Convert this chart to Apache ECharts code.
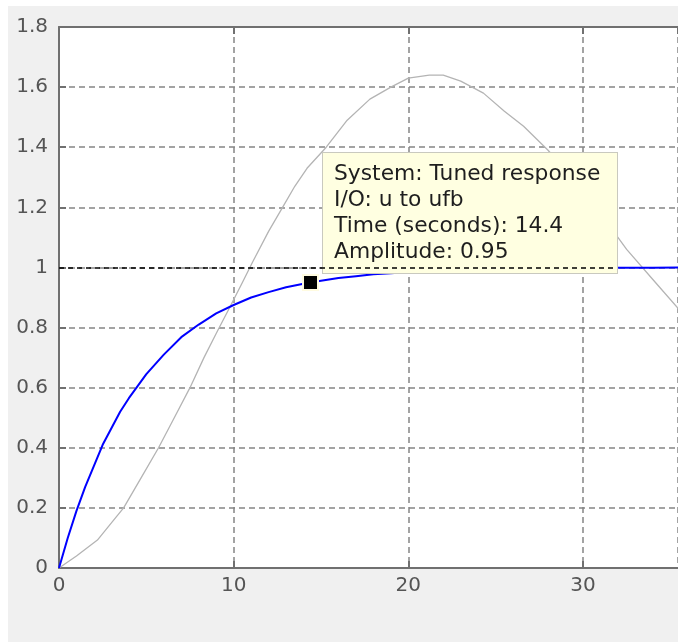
<!DOCTYPE html>
<html>
<head>
<meta charset="utf-8">
<script src="https://cdn.jsdelivr.net/npm/echarts@6/dist/echarts.min.js"></script>
<style>
  html, body { margin: 0; padding: 0; background: #ffffff; }
  #wrap { position: relative; width: 678px; height: 642px; background: #ffffff; overflow: hidden; }
  #bg { position: absolute; left: 8px; top: 6px; width: 670px; height: 636px; background: #f0f0f0; }
  #chart { position: absolute; left: 0; top: 0; width: 678px; height: 642px; }
</style>
</head>
<body>
<div id="wrap"><div id="bg"></div><div id="chart"></div></div>
<script>
// ---- data ----
const tunedTime = [0, 0.5, 1, 1.5, 2, 2.5, 3, 3.5, 4, 5, 6, 7, 8, 9, 10, 11, 12, 13, 14, 14.4, 15, 16, 17, 18, 19, 20, 22, 24, 26, 28, 30, 32, 34, 36];
const tunedAmp  = [0, 0.10, 0.19, 0.27, 0.34, 0.41, 0.465, 0.52, 0.565, 0.645, 0.71, 0.768, 0.81, 0.847, 0.875, 0.90, 0.918, 0.934, 0.946, 0.95, 0.956, 0.965, 0.971, 0.977, 0.981, 0.985, 0.99, 0.993, 0.996, 0.997, 0.998, 0.999, 0.999, 1.0];

const blockTime = [0, 1, 2.2, 3, 3.7, 4.7, 5.7, 6.6, 7.5, 8.3, 9, 9.8, 10.5, 11.1, 12, 12.8, 13.5, 14.2, 15.3, 16.5, 17.8, 19, 20, 21.2, 22, 23, 24.3, 25.5, 26.6, 28, 29.5, 31, 32.5, 34, 35.5];
const blockAmp  = [0, 0.04, 0.093, 0.15, 0.2, 0.3, 0.4, 0.5, 0.6, 0.7, 0.78, 0.87, 0.95, 1.02, 1.12, 1.2, 1.27, 1.33, 1.40, 1.49, 1.56, 1.60, 1.63, 1.64, 1.64, 1.62, 1.58, 1.52, 1.47, 1.39, 1.29, 1.18, 1.06, 0.96, 0.86];

const xTicks = [0, 10, 20, 30];
const yTicks = [0, 0.2, 0.4, 0.6, 0.8, 1, 1.2, 1.4, 1.6, 1.8];

const tipSystem = 'Tuned response';
const tipIO = 'u to ufb';
const tipTime = 14.4;
const tipAmp = 0.95;
const referenceLevel = 1;
const referenceEnd = 31.85;

const xMin = 0, xMax = 35.44;
const yMin = 0, yMax = 1.8;

// ---- chart ----
const chart = echarts.init(document.getElementById('chart'), null, { renderer: 'canvas' });
const FONT = 'DejaVu Sans';
const gridColor = '#858585';
const axisColor = '#707070';

function pairs(xs, ys) { return xs.map((x, i) => [x, ys[i]]); }

const option = {
  animation: false,
  backgroundColor: 'transparent',
  grid: { left: 59, top: 27, right: 0, bottom: 74, show: true, backgroundColor: '#ffffff', borderWidth: 0 },
  xAxis: [{
    type: 'value', min: xMin, max: xMax, interval: 10, position: 'bottom',
    axisLine: { show: true, lineStyle: { color: axisColor, width: 2 } },
    axisTick: { show: true, inside: true, length: 7, lineStyle: { color: axisColor, width: 2 } },
    axisLabel: {
      show: true, margin: 8, color: '#555555', fontFamily: FONT, fontSize: 20, showMaxLabel: false,
      formatter: v => (xTicks.indexOf(v) >= 0 ? String(v) : '')
    },
    splitLine: { show: true, lineStyle: { color: gridColor, width: 1.5, type: [6, 4] } }
  }, {
    type: 'value', min: xMin, max: xMax, interval: 10, position: 'top',
    axisLine: { show: true, onZero: false, lineStyle: { color: axisColor, width: 2 } },
    axisTick: { show: true, inside: true, length: 7, lineStyle: { color: axisColor, width: 2 } },
    axisLabel: { show: false },
    splitLine: { show: false }
  }],
  yAxis: {
    type: 'value', min: yMin, max: yMax, interval: 0.2,
    axisLine: { show: true, lineStyle: { color: axisColor, width: 2 } },
    axisTick: { show: true, inside: true, length: 7, lineStyle: { color: axisColor, width: 2 } },
    axisLabel: {
      margin: 11, color: '#555555', fontFamily: FONT, fontSize: 20,
      formatter: v => {
        const t = yTicks.find(k => Math.abs(k - v) < 1e-6);
        return t === undefined ? '' : String(t);
      }
    },
    splitLine: { show: true, lineStyle: { color: gridColor, width: 1.5, type: [6, 4] } }
  },
  series: [{
    name: 'Block response',
    type: 'line', z: 1,
    data: pairs(blockTime, blockAmp),
    showSymbol: false, smooth: false,
    lineStyle: { color: '#b4b4b4', width: 1.3 },
    silent: true
  }, {
    name: 'Tuned response',
    type: 'line', z: 3,
    data: pairs(tunedTime, tunedAmp),
    showSymbol: false, smooth: false,
    lineStyle: { color: '#0000ff', width: 2 },
    silent: true,
    markPoint: {
      z: 4,
      symbol: 'rect', symbolSize: 15,
      itemStyle: { color: '#000000', borderColor: '#fffbe0', borderWidth: 2 },
      data: [{ coord: [tipTime, tipAmp] }],
      label: {
        show: true,
        position: [21, -121],
        formatter: () => [
          'System: ' + tipSystem,
          'I/O: ' + tipIO,
          'Time (seconds): ' + tipTime,
          'Amplitude: ' + tipAmp
        ].join('\n'),
        fontFamily: FONT, fontSize: 21.8, color: '#1e1e1e',
        lineHeight: 26,
        align: 'left', verticalAlign: 'top',
        backgroundColor: '#ffffe1',
        borderColor: '#c9c9bf', borderWidth: 1,
        padding: [8, 11, 8, 11],
        width: 272
      }
    },
    markLine: {
      z: 6,
      silent: true, symbol: 'none',
      label: { show: false },
      lineStyle: { color: '#000000', width: 1.5, type: [5, 4] },
      data: [[{ coord: [xMin, referenceLevel] }, { coord: [referenceEnd, referenceLevel] }]]
    }
  }]
};
chart.setOption(option);
</script>
</body>
</html>
